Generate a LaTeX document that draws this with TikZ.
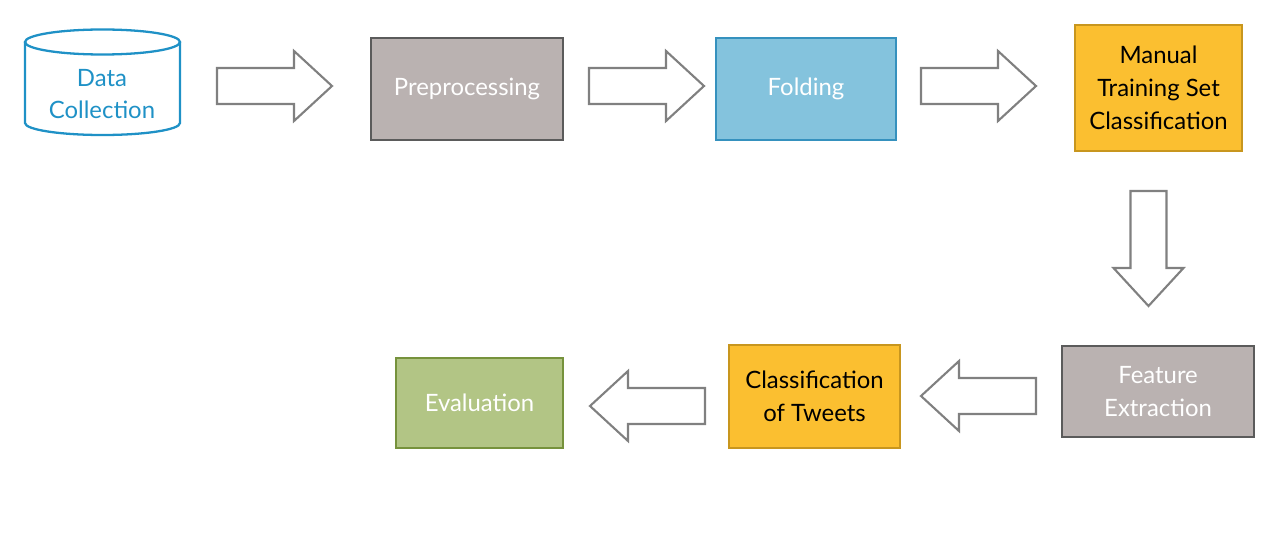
\documentclass[tikz,border=0pt]{standalone}
\usepackage{fontspec}
\setmainfont{Lato}
\definecolor{boxgrey}{HTML}{BAB2B1}
\definecolor{greyline}{HTML}{5B5B5B}
\definecolor{foldblue}{HTML}{84C3DD}
\definecolor{blueline}{HTML}{3591BE}
\definecolor{goldfill}{HTML}{FBBF30}
\definecolor{goldline}{HTML}{C8961E}
\definecolor{evalgreen}{HTML}{B2C585}
\definecolor{greenline}{HTML}{76923C}
\definecolor{dbblue}{HTML}{1F91C6}
\definecolor{arrowgrey}{HTML}{808080}
\tikzset{
  stage/.style={rectangle, line width=1.3pt, align=center,
    font=\fontsize{13.6}{18.7}\selectfont},
  greystage/.style={stage, fill=boxgrey, draw=greyline, text=white},
  goldstage/.style={stage, fill=goldfill, draw=goldline, text=black},
  bigarrow/.pic={
    \draw[arrowgrey, line width=1.2pt, fill=white, line join=miter]
      (0,-18) -- (77,-18) -- (77,-35) -- (115,0) -- (77,35) -- (77,18)
      -- (0,18) -- cycle;
  }
}
\begin{document}
\begin{tikzpicture}[x=0.02cm, y=-0.02cm]
  \useasboundingbox (0,0) rectangle (1280,544);
  %% database
  \draw[dbblue, line width=1.3pt] (25,42) -- (25,123) arc (180:0:77.5 and 12)
    -- (180,42);
  \draw[dbblue, line width=1.3pt] (102.5,42) ellipse (77.5 and 12.5);
  \node[text=dbblue, align=center, font=\fontsize{13.6}{18.7}\selectfont]
    (coll) at (102,94) {Data\\Collec\kern0pt tion};
  %% top row
  \node[greystage, minimum width=3.84cm, minimum height=2.04cm] (prep)
    at (467,89) {Preprocessing};
  \node[stage, fill=foldblue, draw=blueline, text=white,
    minimum width=3.6cm, minimum height=2.04cm] (fold) at (806,89) {Folding};
  \node[goldstage, minimum width=3.34cm, minimum height=2.52cm] (manual)
    at (1158.5,88) {Manual\\Training Set\\Classification};
  %% bottom row
  \node[greystage, minimum width=3.84cm, minimum height=1.82cm] (feat)
    at (1158,391.5) {Feature\\Extrac\kern0pt tion};
  \node[goldstage, minimum width=3.42cm, minimum height=2.06cm] (tweets)
    at (814.5,396.5) {Classification\\of Tweets};
  \node[stage, fill=evalgreen, draw=greenline, text=white,
    minimum width=3.34cm, minimum height=1.8cm] (eval) at (479.5,403)
    {Evaluation};
  %% block arrows
  \foreach \ax/\ay/\ang in {217/86/0, 589/86/0, 921/86/0,
      1148.5/191/-90, 1036/396/180, 705/406/180}
    \pic[rotate=\ang] at (\ax,\ay) {bigarrow};
\end{tikzpicture}
\end{document}
